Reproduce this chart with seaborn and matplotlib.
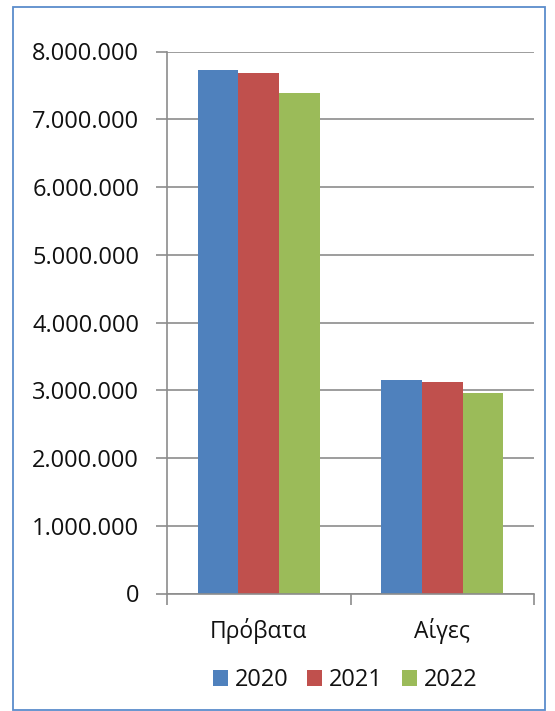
import matplotlib
matplotlib.use("Agg")
import matplotlib.pyplot as plt
import matplotlib.ticker as mticker
from matplotlib.patches import Rectangle
import seaborn as sns
import pandas as pd

categories = ["Πρόβατα", "Αίγες"]
years = ["2020", "2021", "2022"]
values_2020 = [7720000, 3145000]
values_2021 = [7690000, 3124000]
values_2022 = [7385000, 2957000]
colors = ["#4F81BD", "#C0504D", "#9BBB59"]
y_ticks = [0, 1000000, 2000000, 3000000, 4000000, 5000000, 6000000, 7000000, 8000000]

rows = []
for yr, vals in zip(years, [values_2020, values_2021, values_2022]):
    for c, v in zip(categories, vals):
        rows.append({"category": c, "year": yr, "value": v})
df = pd.DataFrame(rows)

sns.set_theme(style="white")
plt.rcParams["font.family"] = ["Open Sans", "DejaVu Sans"]

fig = plt.figure(figsize=(5.55, 7.11), dpi=100)
ax = fig.add_axes([167 / 555, 1 - 593.5 / 711, 367 / 555, 542 / 711])

sns.barplot(data=df, x="category", y="value", hue="year", order=categories,
            hue_order=years, palette=colors, width=0.665, gap=0, ax=ax,
            saturation=1, edgecolor="none", legend=True)

grid_c = "#8C8C8C"
ax.set_ylim(0, 8000000)
ax.set_xlim(-0.5, 1.5)
ax.set_yticks(y_ticks)
ax.yaxis.set_major_formatter(mticker.FuncFormatter(lambda v, p: f"{int(v):,}".replace(",", ".")))
ax.yaxis.grid(True, color=grid_c, linewidth=1.2)
ax.set_axisbelow(True)
ax.set_xlabel("")
ax.set_ylabel("")

for s in ["top", "right"]:
    ax.spines[s].set_visible(False)
for s in ["left", "bottom"]:
    ax.spines[s].set_color(grid_c)
    ax.spines[s].set_linewidth(1.2)

ax.tick_params(axis="y", which="major", left=True, length=8, width=1.2, color=grid_c,
               pad=12, labelsize=17, labelcolor="#111111")
ax.tick_params(axis="x", which="major", bottom=False, length=0, pad=18,
               labelsize=16.5, labelcolor="#111111")
ax.set_xticks([-0.5, 0.5, 1.5], minor=True)
ax.tick_params(axis="x", which="minor", bottom=True, length=8, width=1.2, color=grid_c)

leg = ax.get_legend()
handles, labels = ax.get_legend_handles_labels()
leg.remove()
fig.legend(handles, labels, loc="center", bbox_to_anchor=(345 / 555, 1 - 680 / 711),
           ncol=3, frameon=False, fontsize=17, handlelength=0.65, handleheight=0.65,
           handletextpad=0.28, columnspacing=0.8, borderpad=0, labelcolor="#111111")

border = Rectangle((13 / 555, 1 - 710 / 711), 532 / 555, 703 / 711, transform=fig.transFigure,
                   fill=False, edgecolor="#5B8CCB", linewidth=1.3)
fig.patches.append(border)

fig.savefig("out.png", dpi=100)
